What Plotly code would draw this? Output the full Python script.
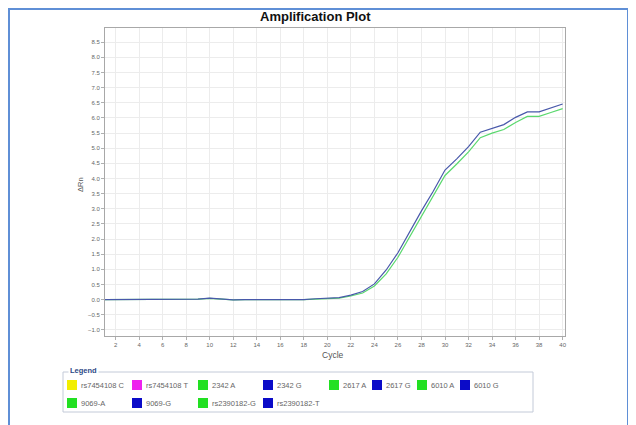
import plotly.graph_objects as go

# ---------------- data ----------------
cycles = list(range(1, 41))

blue_rn = [0.00, 0.00, 0.00, 0.00, 0.00, 0.00, 0.01, 0.00, 0.02, 0.05,
           0.02, -0.01, 0.00, 0.00, 0.01, -0.01, 0.00, 0.00, 0.03, 0.04,
           0.07, 0.15, 0.27, 0.52, 0.98, 1.55, 2.25, 2.93, 3.58, 4.28,
           4.65, 5.05, 5.53, 5.65, 5.78, 6.02, 6.20, 6.20, 6.33, 6.46]

green_rn = [0.00, 0.00, 0.00, 0.00, 0.00, 0.00, 0.01, 0.00, 0.02, 0.04,
            0.02, -0.01, 0.00, 0.00, 0.01, -0.01, 0.00, 0.00, 0.02, 0.03,
            0.05, 0.12, 0.22, 0.45, 0.85, 1.40, 2.08, 2.78, 3.42, 4.10,
            4.48, 4.88, 5.35, 5.50, 5.62, 5.85, 6.05, 6.05, 6.18, 6.31]

legend_names = ["rs7454108 C", "rs7454108 T", "2342 A", "2342 G", "2617 A",
                "2617 G", "6010 A", "6010 G", "9069-A", "9069-G",
                "rs2390182-G", "rs2390182-T"]
legend_colors = ["#f2ee00", "#ee22ee", "#22e022", "#0b0bc8", "#22e022",
                 "#0b0bc8", "#22e022", "#0b0bc8", "#22e022", "#0b0bc8",
                 "#22e022", "#0b0bc8"]

x_ticks = list(range(2, 41, 2))
y_ticks = [v / 2 for v in range(-2, 18)]

# ---------------- layout helpers ----------------
# the html page body has an 8px margin, so the figure starts at (8, 8)
OFF = 8
W, H = 636 - OFF, 425 - OFF
PLOT_L, PLOT_R, PLOT_T, PLOT_B = 105, 565, 28, 336   # in window pixels
L, T = PLOT_L - OFF, PLOT_T - OFF
R, B = W - (PLOT_R - OFF), H - (PLOT_B - OFF)
PW, PH = PLOT_R - PLOT_L, PLOT_B - PLOT_T


def px_x(px):
    return (px - PLOT_L) / PW


def px_y(py):
    return (PLOT_B - py) / PH


FONT = "Liberation Sans, Arial, sans-serif"

fig = go.Figure()
fig.add_trace(go.Scatter(x=cycles, y=green_rn, mode="lines", name="2342 A",
                         line=dict(color="#5ad86e", width=1.2), showlegend=False))
fig.add_trace(go.Scatter(x=cycles, y=blue_rn, mode="lines", name="2342 G",
                         line=dict(color="#4858aa", width=1.2), showlegend=False))

axis_common = dict(showline=True, mirror=True, linecolor="#a8a8a8", linewidth=1,
                   showgrid=True, gridcolor="#ececec", gridwidth=1,
                   ticks="outside", ticklen=3, tickcolor="#b0b0b0",
                   tickfont=dict(family=FONT, size=6, color="#666"),
                   zeroline=False)

fig.update_xaxes(range=[1.1, 40.2], tickvals=x_ticks, **axis_common)
fig.update_yaxes(range=[-1.2, 8.97], tickvals=y_ticks, tickformat=".1f", **axis_common)

shapes = []
annotations = []

# outer blue frame
shapes.append(dict(type="rect", xref="paper", yref="paper",
                   x0=px_x(9), x1=px_x(628), y0=px_y(440), y1=px_y(9),
                   line=dict(color="#5f8fd6", width=2), fillcolor="rgba(0,0,0,0)",
                   layer="below"))

# legend fieldset box
shapes.append(dict(type="rect", xref="paper", yref="paper",
                   x0=px_x(63), x1=px_x(533), y0=px_y(412), y1=px_y(372),
                   line=dict(color="#c3cad8", width=1), fillcolor="rgba(0,0,0,0)"))
annotations.append(dict(text="<b>Legend</b>", xref="paper", yref="paper",
                        x=px_x(68), y=px_y(371), xanchor="left", yanchor="middle",
                        showarrow=False, bgcolor="white", borderpad=1,
                        font=dict(family=FONT, size=7.5, color="#2c4a86")))

# legend entries (two rows, slot starts in window pixels)
slot_x = [67, 132, 198, 263, 329, 372, 417, 460, 67, 132, 198, 263]
row_y = [385] * 8 + [403] * 4
for name, col, sx, ry in zip(legend_names, legend_colors, slot_x, row_y):
    shapes.append(dict(type="rect", xref="paper", yref="paper",
                       x0=px_x(sx), x1=px_x(sx + 10), y0=px_y(ry + 5), y1=px_y(ry - 5),
                       line=dict(width=0), fillcolor=col))
    annotations.append(dict(text=name, xref="paper", yref="paper",
                            x=px_x(sx + 12), y=px_y(ry), xanchor="left", yanchor="middle",
                            showarrow=False,
                            font=dict(family=FONT, size=7.5, color="#666")))

# axis titles
annotations.append(dict(text="Cycle", xref="paper", yref="paper",
                        x=px_x(333), y=px_y(355), xanchor="center", yanchor="middle",
                        showarrow=False, font=dict(family=FONT, size=8.5, color="#555")))
annotations.append(dict(text="ΔRn", xref="paper", yref="paper", textangle=-90,
                        x=px_x(80), y=px_y(185), xanchor="center", yanchor="middle",
                        showarrow=False, font=dict(family=FONT, size=7.5, color="#555")))

# title
annotations.append(dict(text="<b>Amplification Plot</b>", xref="paper", yref="paper",
                        x=px_x(315), y=px_y(16), xanchor="center", yanchor="middle",
                        showarrow=False, font=dict(family=FONT, size=13, color="#111")))

fig.update_layout(
    width=W, height=H,
    margin=dict(l=L, r=R, t=T, b=B),
    paper_bgcolor="white", plot_bgcolor="white",
    shapes=shapes, annotations=annotations,
    showlegend=False,
)

fig.write_html("out.html")
